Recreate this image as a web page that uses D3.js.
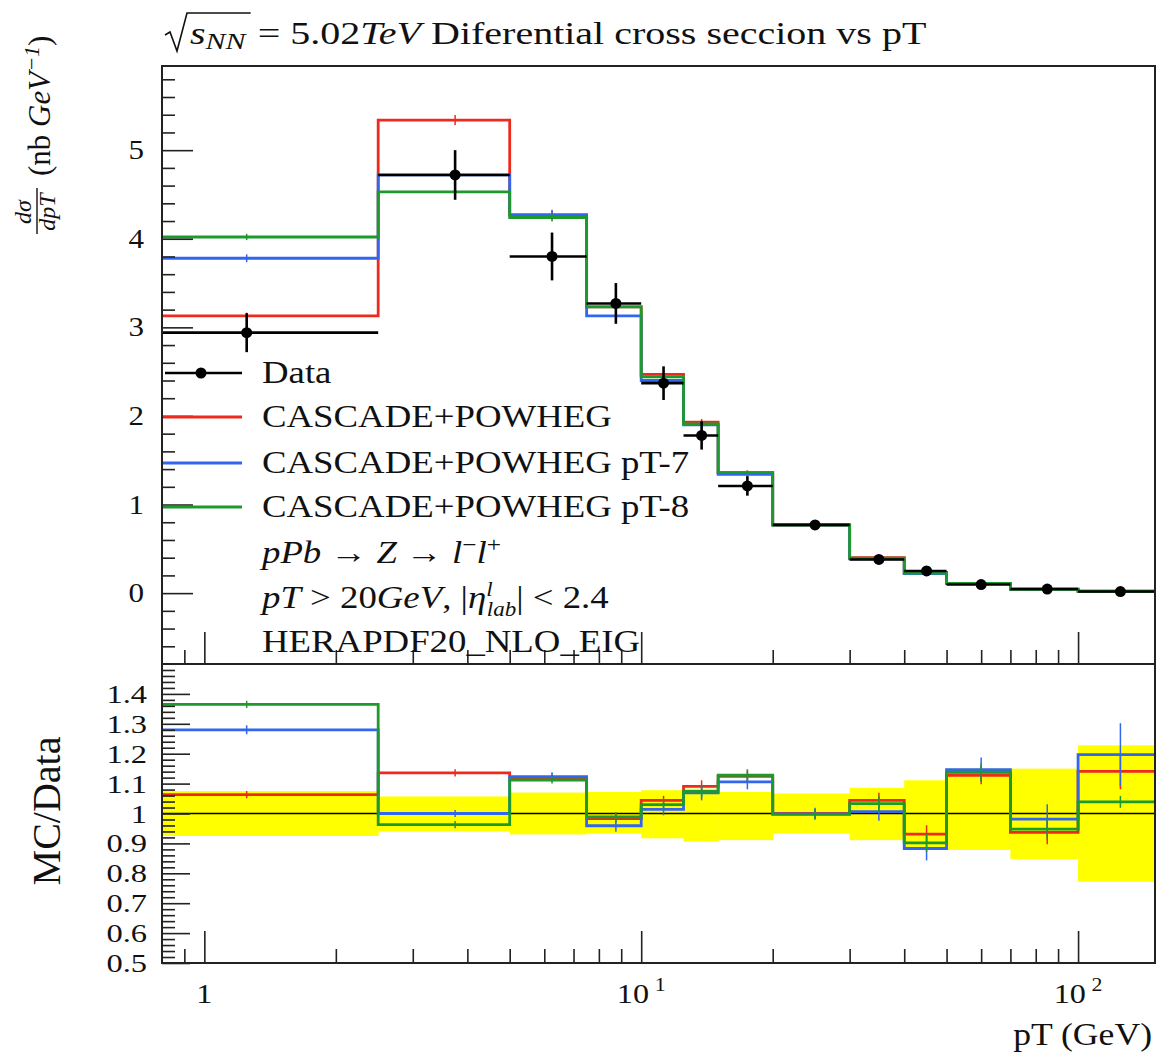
<!DOCTYPE html>
<meta charset="utf-8">
<script src="https://d3js.org/d3.v7.min.js"></script>
<style>
  body { margin: 0; background: #fff; }
  text { font-family: "Liberation Serif", "DejaVu Serif", serif; fill: #111; }
</style>
<div id="my_dataviz"></div>
<script>
// pT bins (GeV), first bin starts at 0
var binEdges = [0, 2.5, 5, 7.5, 10, 12.5, 15, 20, 30, 40, 50, 70, 100, 150];
var binCentres = [1.25, 3.75, 6.25, 8.75, 11.25, 13.75, 17.5, 25, 35, 45, 60, 85, 125];

// top panel: dsigma/dpT (nb/GeV)
var dataVals = [2.94, 4.72, 3.80, 3.27, 2.37, 1.78, 1.21, 0.77, 0.38, 0.25, 0.097, 0.046, 0.018];
var dataErr  = [0.22, 0.28, 0.27, 0.23, 0.19, 0.16, 0.11, 0.05, 0.035, 0.03, 0.013, 0.007, 0.004];
var cascadeVals = [3.13, 5.34, 4.27, 3.23, 2.47, 1.93, 1.36, 0.77, 0.40, 0.233, 0.109, 0.043, 0.021];
var cascadePt7Vals = [3.78, 4.72, 4.27, 3.13, 2.40, 1.90, 1.34, 0.77, 0.387, 0.221, 0.111, 0.045, 0.022];
var cascadePt8Vals = [4.02, 4.53, 4.24, 3.23, 2.44, 1.91, 1.36, 0.767, 0.395, 0.226, 0.110, 0.044, 0.019];

// bottom panel: MC / Data
var cascadeRatio = [1.063, 1.136, 1.12, 0.983, 1.044, 1.091, 1.124, 1.0, 1.044, 0.931, 1.128, 0.937, 1.141];
var cascadePt7Ratio = [1.28, 1.0, 1.123, 0.959, 1.014, 1.069, 1.106, 0.999, 1.006, 0.883, 1.147, 0.981, 1.197];
var cascadePt8Ratio = [1.365, 0.963, 1.112, 0.989, 1.03, 1.074, 1.128, 0.997, 1.033, 0.902, 1.138, 0.948, 1.039];
var cascadeRatioErr = [0.012, 0.012, 0.012, 0.015, 0.015, 0.02, 0.02, 0.015, 0.025, 0.03, 0.03, 0.04, 0.06];
var cascadePt7RatioErr = [0.015, 0.012, 0.015, 0.02, 0.02, 0.025, 0.025, 0.02, 0.03, 0.04, 0.04, 0.05, 0.105];
var cascadePt8RatioErr = [0.012, 0.012, 0.012, 0.015, 0.015, 0.02, 0.02, 0.015, 0.025, 0.03, 0.03, 0.035, 0.02];
var bandHi = [1.075, 1.057, 1.07, 1.072, 1.078, 1.083, 1.072, 1.067, 1.086, 1.111, 1.15, 1.15, 1.228];
var bandLo = [0.925, 0.94, 0.93, 0.933, 0.917, 0.906, 0.911, 0.933, 0.911, 0.878, 0.878, 0.847, 0.772];

var topTicks = [0, 1, 2, 3, 4, 5];
var ratioTicks = [0.5, 0.6, 0.7, 0.8, 0.9, 1, 1.1, 1.2, 1.3, 1.4];

var series = [
  {label: "CASCADE+POWHEG", color: "#ee2a1e", vals: cascadeVals, ratio: cascadeRatio, err: cascadeRatioErr},
  {label: "CASCADE+POWHEG pT-7", color: "#3366ee", vals: cascadePt7Vals, ratio: cascadePt7Ratio, err: cascadePt7RatioErr},
  {label: "CASCADE+POWHEG pT-8", color: "#1c9a2c", vals: cascadePt8Vals, ratio: cascadePt8Ratio, err: cascadePt8RatioErr}
];

var W = 1163, H = 1054;
var left = 162, right = 1155, top0 = 66, mid = 664, bottom = 963;
var SX = 1.15; // fonts are drawn a bit wider

var svg = d3.select("#my_dataviz").append("svg")
    .attr("width", W).attr("height", H);

var x = d3.scaleLog().domain([0.8, 150]).range([left, right]);
var yTop = d3.scaleLinear().domain([-0.8, 5.95]).range([mid, top0]);
var yRat = d3.scaleLinear().domain([0.5, 1.5]).range([bottom, mid]);
var xMin = x.domain()[0];

function edgeX(e) { return x(Math.max(e, xMin)); }

function addText(parent, px, py, size, anchor, sx) {
  return parent.append("text")
    .attr("transform", "translate(" + px + "," + py + ") scale(" + (sx || SX) + ",1)")
    .attr("font-size", size)
    .attr("text-anchor", anchor || "start");
}

// histogram as a step line
function stepPath(vals, y) {
  var pts = [];
  vals.forEach(function(v, i) {
    pts.push([edgeX(binEdges[i]), y(v)]);
    pts.push([edgeX(binEdges[i + 1]), y(v)]);
  });
  return d3.line()(pts);
}

// ---------------- top panel ----------------
var topG = svg.append("g");

series.forEach(function(s) {
  topG.append("path")
    .attr("d", stepPath(s.vals, yTop))
    .attr("fill", "none")
    .attr("stroke", s.color)
    .attr("stroke-width", 2.8);
  topG.selectAll(null)
    .data(s.vals)
    .enter().append("line")
      .attr("x1", function(d, i) { return x(binCentres[i]); })
      .attr("x2", function(d, i) { return x(binCentres[i]); })
      .attr("y1", function(d, i) { return yTop(d + s.err[i] * dataVals[i]); })
      .attr("y2", function(d, i) { return yTop(d - s.err[i] * dataVals[i]); })
      .attr("stroke", s.color)
      .attr("stroke-width", 1.5);
});

// data points
var dataG = topG.append("g");
dataG.selectAll(".xerr")
  .data(dataVals).enter().append("line")
    .attr("x1", function(d, i) { return edgeX(binEdges[i]); })
    .attr("x2", function(d, i) { return edgeX(binEdges[i + 1]); })
    .attr("y1", function(d) { return yTop(d); })
    .attr("y2", function(d) { return yTop(d); })
    .attr("stroke", "#000").attr("stroke-width", 2.6);
dataG.selectAll(".yerr")
  .data(dataVals).enter().append("line")
    .attr("x1", function(d, i) { return x(binCentres[i]); })
    .attr("x2", function(d, i) { return x(binCentres[i]); })
    .attr("y1", function(d, i) { return yTop(d + dataErr[i]); })
    .attr("y2", function(d, i) { return yTop(d - dataErr[i]); })
    .attr("stroke", "#000").attr("stroke-width", 2.6);
dataG.selectAll("circle")
  .data(dataVals).enter().append("circle")
    .attr("cx", function(d, i) { return x(binCentres[i]); })
    .attr("cy", function(d) { return yTop(d); })
    .attr("r", 5.5)
    .attr("fill", "#000");

// ---------------- ratio panel ----------------
var ratG = svg.append("g");

ratG.selectAll(".band")
  .data(bandHi).enter().append("rect")
    .attr("x", function(d, i) { return edgeX(binEdges[i]); })
    .attr("width", function(d, i) { return edgeX(binEdges[i + 1]) - edgeX(binEdges[i]) + 0.5; })
    .attr("y", function(d) { return yRat(d); })
    .attr("height", function(d, i) { return yRat(bandLo[i]) - yRat(d); })
    .attr("fill", "#ffff00");

ratG.append("line")
  .attr("x1", left).attr("x2", right)
  .attr("y1", yRat(1)).attr("y2", yRat(1))
  .attr("stroke", "#000").attr("stroke-width", 1.6);

series.forEach(function(s) {
  ratG.append("path")
    .attr("d", stepPath(s.ratio, yRat))
    .attr("fill", "none")
    .attr("stroke", s.color)
    .attr("stroke-width", 2.8);
  ratG.selectAll(null)
    .data(s.ratio)
    .enter().append("line")
      .attr("x1", function(d, i) { return x(binCentres[i]); })
      .attr("x2", function(d, i) { return x(binCentres[i]); })
      .attr("y1", function(d, i) { return yRat(d + s.err[i]); })
      .attr("y2", function(d, i) { return yRat(d - s.err[i]); })
      .attr("stroke", s.color)
      .attr("stroke-width", 1.5);
});

// ---------------- frames and ticks ----------------
var axG = svg.append("g").attr("stroke", "#222");
axG.append("rect").attr("x", left).attr("y", top0).attr("width", right - left).attr("height", mid - top0)
  .attr("fill", "none").attr("stroke-width", 2);
axG.append("rect").attr("x", left).attr("y", mid).attr("width", right - left).attr("height", bottom - mid)
  .attr("fill", "none").attr("stroke-width", 2);

function tickAxis(axis, g) {
  g.call(axis);
  g.select(".domain").remove();
  g.selectAll(".tick line").attr("stroke", "#222").attr("stroke-width", 1.6);
  g.selectAll(".tick text").remove();
}

// y ticks, top panel
var yTopMinor = d3.range(-3, 30).map(function(k) { return k * 0.2; }).filter(function(v) { return Math.abs(v - Math.round(v)) > 1e-6; });
tickAxis(d3.axisRight(yTop).tickValues(topTicks).tickSize(31), svg.append("g").attr("transform", "translate(" + left + ",0)"));
tickAxis(d3.axisRight(yTop).tickValues(yTopMinor).tickSize(13), svg.append("g").attr("transform", "translate(" + left + ",0)"));

// y ticks, ratio panel
var yRatMinor = d3.range(26, 75).map(function(k) { return k * 0.02; }).filter(function(v) { return Math.abs(v * 10 - Math.round(v * 10)) > 1e-6; });
tickAxis(d3.axisRight(yRat).tickValues(ratioTicks).tickSize(28), svg.append("g").attr("transform", "translate(" + left + ",0)"));
tickAxis(d3.axisRight(yRat).tickValues(yRatMinor).tickSize(13), svg.append("g").attr("transform", "translate(" + left + ",0)"));

// x ticks on both panels
var xMajor = [1, 10, 100];
var xMinor = [0.9].concat(d3.range(2, 10), d3.range(20, 100, 10));
[mid, bottom].forEach(function(yy) {
  tickAxis(d3.axisTop(x).tickValues(xMajor).tickSize(32), svg.append("g").attr("transform", "translate(0," + yy + ")"));
  tickAxis(d3.axisTop(x).tickValues(xMinor).tickSize(14), svg.append("g").attr("transform", "translate(0," + yy + ")"));
});

// ---------------- tick labels ----------------
topTicks.forEach(function(v) {
  addText(svg, 144, yTop(v) + 9, 27, "end").text(v);
});
ratioTicks.forEach(function(v) {
  addText(svg, 147, yRat(v) + 9, 25, "end", 1.3).text(v === 1 ? "1" : v.toFixed(1));
});
xMajor.forEach(function(v, i) {
  var t = addText(svg, x(v), 1003, 28, "middle");
  if (i === 0) { t.text("1"); return; }
  t.append("tspan").text("10");
  t.append("tspan").attr("font-size", 19).attr("dx", 5).attr("dy", -12).text(i);
});
addText(svg, 1152, 1045, 31, "end").text("pT (GeV)");

// ---------------- axis titles ----------------
var ylab = svg.append("g").attr("transform", "translate(50,240) rotate(-90)");
ylab.append("text").attr("x", 28).attr("y", -19).attr("text-anchor", "middle")
  .attr("font-size", 24).attr("font-style", "italic").text("dσ");
ylab.append("line").attr("x1", 6).attr("x2", 52).attr("y1", -13).attr("y2", -13)
  .attr("stroke", "#111").attr("stroke-width", 1.4);
ylab.append("text").attr("x", 28).attr("y", 5).attr("text-anchor", "middle")
  .attr("font-size", 24).attr("font-style", "italic").text("dpT");
var yl2 = ylab.append("text").attr("x", 64).attr("y", 0).attr("font-size", 31);
yl2.append("tspan").text("(nb ");
yl2.append("tspan").attr("font-style", "italic").text("GeV");
yl2.append("tspan").attr("font-size", 22).attr("dy", -11).attr("font-style", "italic").text("−1");
yl2.append("tspan").attr("dy", 11).text(")");

svg.append("text")
  .attr("transform", "translate(60,811) rotate(-90)")
  .attr("text-anchor", "middle")
  .attr("font-size", 40)
  .text("MC/Data");

// ---------------- title ----------------
var TSX = 1.25;
var tx = 190, ty = 44;
var sNN = addText(svg, tx, ty, 32, "start", TSX);
sNN.append("tspan").attr("font-style", "italic").text("s");
sNN.append("tspan").attr("font-style", "italic").attr("font-size", 24).attr("dy", 5).text("NN");
var sw = sNN.node().getBBox().width * TSX;
svg.append("path")
  .attr("d", "M" + (tx - 25) + "," + (ty - 9) + " l5,-3 l7,19 l10,-38 H" + (tx + sw + 3))
  .attr("fill", "none").attr("stroke", "#111").attr("stroke-width", 1.6);
var rest = addText(svg, tx + sw + 10, ty, 32, "start", TSX);
rest.append("tspan").text("= 5.02");
rest.append("tspan").attr("font-style", "italic").text("TeV");
rest.append("tspan").text(" Diferential cross seccion vs pT");

// ---------------- legend ----------------
var leg = svg.append("g");
var legRows = [373, 417, 463, 507, 553, 598, 642];
leg.append("line").attr("x1", 165).attr("x2", 242).attr("y1", legRows[0]).attr("y2", legRows[0])
  .attr("stroke", "#000").attr("stroke-width", 2.6);
leg.append("circle").attr("cx", 201).attr("cy", legRows[0]).attr("r", 5.5).attr("fill", "#000");
addText(leg, 262, legRows[0] + 10, 32).text("Data");
series.forEach(function(s, i) {
  leg.append("line").attr("x1", 163).attr("x2", 242).attr("y1", legRows[i + 1]).attr("y2", legRows[i + 1])
    .attr("stroke", s.color).attr("stroke-width", 2.8);
  addText(leg, 262, legRows[i + 1] + 10, 32).text(s.label);
});

var l4 = addText(leg, 262, legRows[4] + 10, 32);
l4.append("tspan").attr("font-style", "italic").text("pPb");
l4.append("tspan").text(" → ");
l4.append("tspan").attr("font-style", "italic").text("Z");
l4.append("tspan").text(" → ");
l4.append("tspan").attr("font-style", "italic").text("l");
l4.append("tspan").attr("font-size", 22).attr("dy", -11).text("−");
l4.append("tspan").attr("font-style", "italic").attr("dy", 11).text("l");
l4.append("tspan").attr("font-size", 22).attr("dy", -11).text("+");

var l5 = addText(leg, 262, legRows[5] + 10, 32);
l5.append("tspan").attr("font-style", "italic").text("pT");
l5.append("tspan").text(" > 20");
l5.append("tspan").attr("font-style", "italic").text("GeV");
l5.append("tspan").text(", |");
l5.append("tspan").attr("font-style", "italic").text("η");
l5.append("tspan").attr("font-style", "italic").attr("font-size", 20).attr("dy", -12).text("l");
l5.append("tspan").attr("font-style", "italic").attr("font-size", 20).attr("dx", -5).attr("dy", 20).text("lab");
l5.append("tspan").attr("dy", -8).text("| < 2.4");

addText(leg, 262, legRows[6] + 10, 32).text("HERAPDF20_NLO_EIG");
</script>
